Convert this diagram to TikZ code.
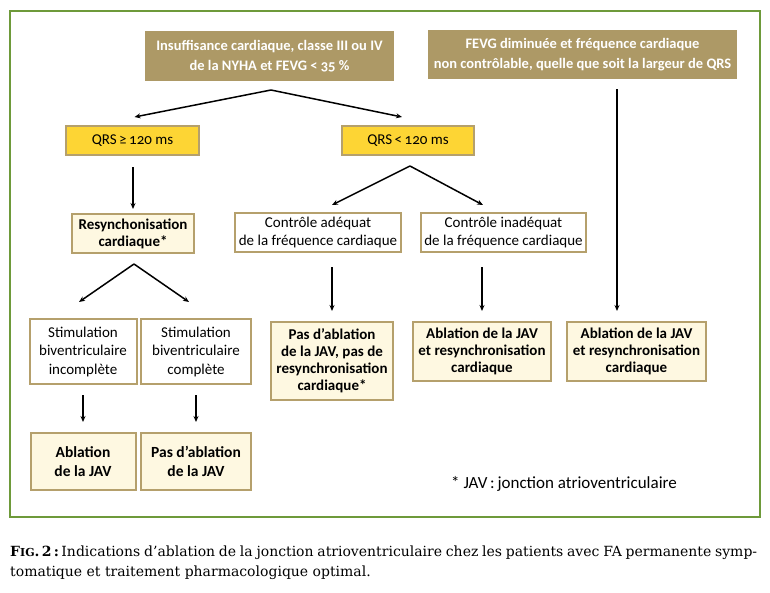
\documentclass[tikz,border=0pt]{standalone}
\usepackage{fontspec}
\setmainfont{Carlito}[Numbers=OldStyle]
\newfontfamily\capfont{DejaVu Serif}
\usetikzlibrary{arrows.meta,calc}
\definecolor{tanfill}{HTML}{AD9966}
\definecolor{tanline}{HTML}{B5A06C}
\definecolor{qyellow}{HTML}{FDD534}
\definecolor{cream}{HTML}{FEF8E1}
\definecolor{frame}{HTML}{6E9A3A}
\tikzset{
  basebox/.style={draw=tanline, line width=2pt, inner sep=0pt, align=center, font=\fontsize{15}{17.5}\selectfont},
  topbox/.style={basebox, draw=none, fill=tanfill, text=white, font=\bfseries\fontsize{14.5}{19.5}\selectfont},
  qrsbox/.style={basebox, fill=qyellow, font=\fontsize{15}{17}\selectfont},
  whitebox/.style={basebox, fill=white},
  resbox/.style={basebox, fill=cream, font=\bfseries\fontsize{15}{17}\selectfont},
  arr/.style={line width=1.5pt, -{Stealth[length=6pt,width=5pt]}},
}
\begin{document}
\begin{tikzpicture}[x=1pt,y=-1pt]
\useasboundingbox (0,0) rectangle (770,592);
\fill[white] (0,0) rectangle (770,592);
\draw[frame, line width=2.2pt] (10,11) rectangle (760,517);

\node[topbox, minimum width=249pt, minimum height=50pt] (top1) at (269.5,56) {Insuffisance cardiaque, classe III ou IV\\de la NYHA et FEVG < 35 \%};
\node[topbox, minimum width=309pt, minimum height=49pt] (top2) at (582.5,54.5) {FEVG diminuée et fréquence cardiaque\\non contrôlable, quelle que soit la largeur de QRS};

\node[qrsbox, minimum width=133pt, minimum height=29pt] (qrs1) at (132.5,140.5) {QRS\,≥\,120 ms};
\node[qrsbox, minimum width=132pt, minimum height=29pt] (qrs2) at (408,140.5) {QRS\,<\,120 ms};

\node[resbox, minimum width=122pt, minimum height=39pt] (res) at (133,233.5) {Resynchonisation\\cardiaque*};
\node[whitebox, minimum width=166pt, minimum height=39pt] (ctrl1) at (318,232.5) {Contrôle adéquat\\de la fréquence cardiaque};
\node[whitebox, minimum width=165pt, minimum height=39pt] (ctrl2) at (503.5,232.5) {Contrôle inadéquat\\de la fréquence cardiaque};

\node[whitebox, minimum width=107pt, minimum height=65pt, font=\fontsize{15}{18.5}\selectfont] (stim1) at (83,351.5) {Stimulation\\biventriculaire\\incomplète};
\node[whitebox, minimum width=110pt, minimum height=65pt, font=\fontsize{15}{18.5}\selectfont] (stim2) at (196,351.5) {Stimulation\\biventriculaire\\complète};

\node[resbox, minimum width=122pt, minimum height=78pt] (pas) at (332,361) {Pas d’ablation\\de la JAV, pas de\\resynchronisation\\cardiaque*};
\node[resbox, minimum width=138pt, minimum height=59pt] (ablm) at (482,351.5) {Ablation de la JAV\\et resynchronisation\\cardiaque};
\node[resbox, minimum width=139pt, minimum height=59pt] (ablr) at (636.5,351.5) {Ablation de la JAV\\et resynchronisation\\cardiaque};

\node[resbox, minimum width=105pt, minimum height=57pt, font=\bfseries\fontsize{15.5}{19}\selectfont] (abl1) at (83,461.5) {Ablation\\de la JAV};
\node[resbox, minimum width=110pt, minimum height=57pt, font=\bfseries\fontsize{15.5}{19}\selectfont] (abl2) at (196,461.5) {Pas d’ablation\\de la JAV};

\node[anchor=west, inner sep=0pt, font=\fontsize{17}{19}\selectfont] (note) at (451,484) {* JAV\,:\,jonction atrioventriculaire};

% connectors
\coordinate (v1) at ($(top1.south)+(1.5,8)$);
\draw[arr] (v1) -- ($(qrs1.north)+(2,-8)$);
\draw[arr] (v1) -- ($(qrs2.north)+(-6,-8)$);
\draw[arr] ($(qrs1.south)+(0.5,11)$) -- ($(res.north)+(0,-4)$);
\coordinate (v2) at ($(qrs2.south)+(2,10)$);
\draw[arr] (v2) -- ($(ctrl1.north)+(14,-7)$);
\draw[arr] (v2) -- ($(ctrl2.north)+(-20.5,-7)$);
\coordinate (v3) at ($(res.south)+(1,10)$);
\draw[arr] (v3) -- ($(stim1.north)+(-4,-16)$);
\draw[arr] (v3) -- ($(stim2.north)+(-7,-16)$);
\draw[arr] ($(pas.north |- ctrl1.south)+(0,14)$) -- ($(pas.north)+(0,-10)$);
\draw[arr] ($(ablm.north |- ctrl2.south)+(0,14)$) -- ($(ablm.north)+(0,-10)$);
\draw[arr] ($(top2.south)+(34.5,9)$) -- ($(ablr.north)+(-19.5,-10)$);
\draw[arr] ($(stim1.south)+(0,10)$) -- ($(abl1.north)+(0,-10)$);
\draw[arr] ($(stim2.south)+(0,10)$) -- ($(abl2.north)+(0,-10)$);

% caption
\node[anchor=west, inner sep=0pt, font=\capfont\fontsize{14}{20}\selectfont] (cap1) at (10,553) {\makebox[747pt][s]{{\bfseries F{\fontsize{11}{20}\selectfont IG}.\,2\,:}\,Indications d’ablation de la jonction atrioventriculaire chez les patients avec FA permanente symp-}};
\node[anchor=west, inner sep=0pt, font=\capfont\fontsize{14}{20}\selectfont] (cap2) at (10,573) {tomatique et traitement pharmacologique optimal.};
\end{tikzpicture}
\end{document}
